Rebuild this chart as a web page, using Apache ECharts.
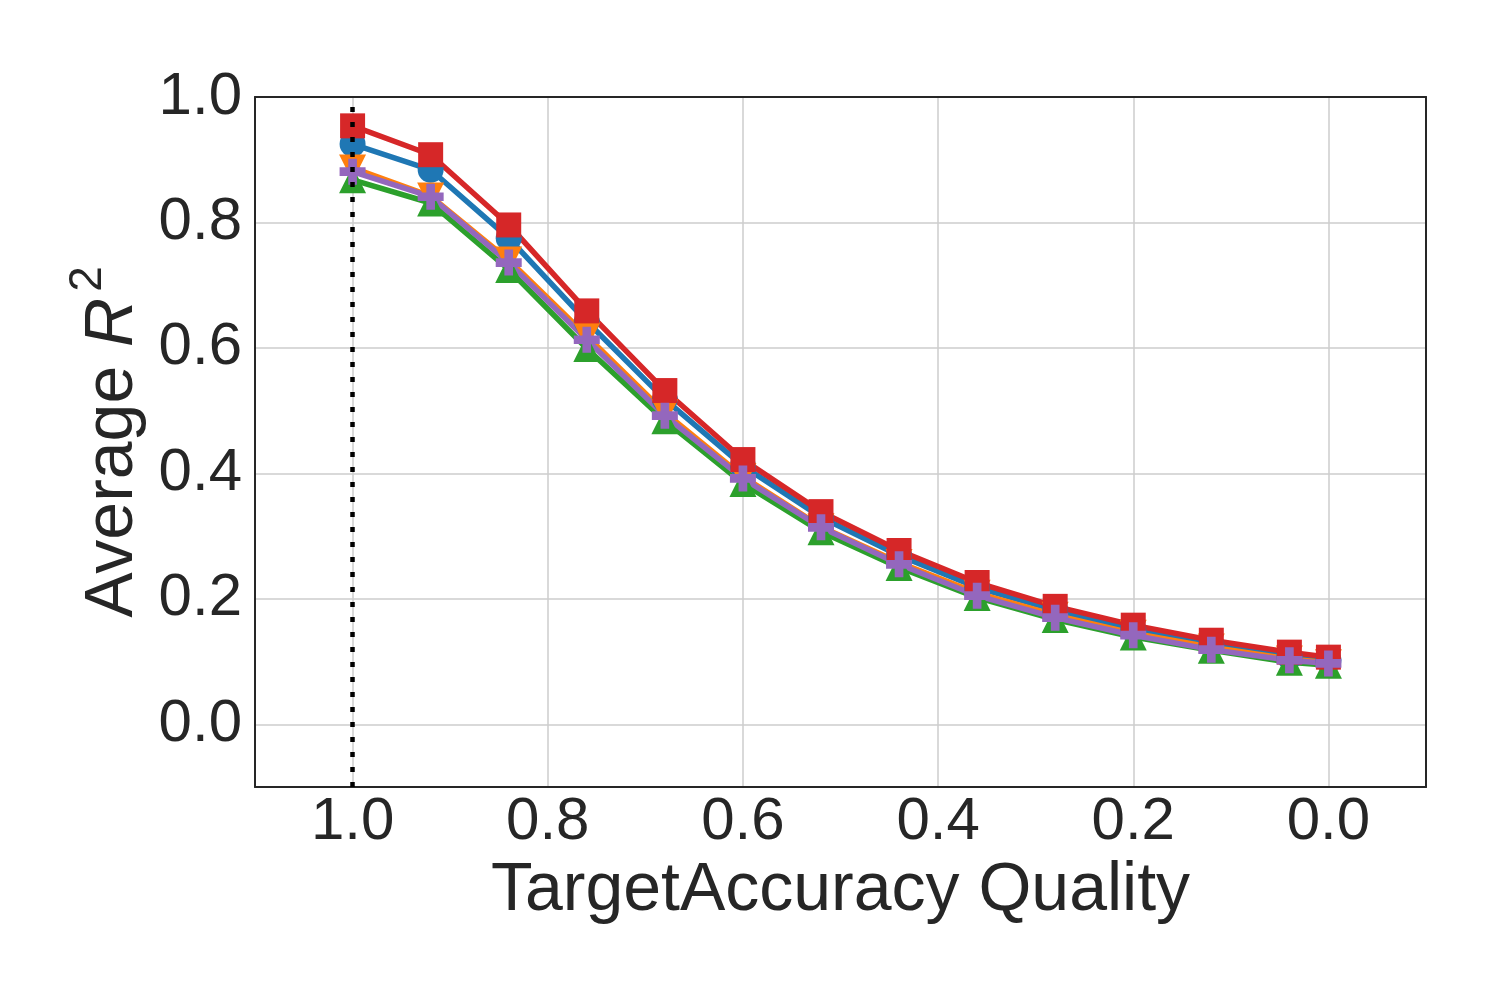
<!DOCTYPE html>
<html>
<head>
<meta charset="utf-8">
<script src="https://cdn.jsdelivr.net/npm/echarts@6/dist/echarts.min.js"></script>
<style>
html,body{margin:0;padding:0;background:#fff;}
#chart{width:1500px;height:1000px;}
</style>
</head>
<body>
<div id="chart"></div>
<script>
const xValues = [1.0, 0.92, 0.84, 0.76, 0.68, 0.60, 0.52, 0.44, 0.36, 0.28, 0.20, 0.12, 0.04, 0.0];
const blueCircle = [0.925, 0.884, 0.775, 0.642, 0.518, 0.412, 0.330, 0.269, 0.218, 0.182, 0.151, 0.127, 0.108, 0.102];
const orangeDown = [0.887, 0.842, 0.740, 0.619, 0.497, 0.395, 0.315, 0.258, 0.209, 0.174, 0.145, 0.123, 0.104, 0.098];
const greenUp = [0.868, 0.831, 0.725, 0.599, 0.484, 0.384, 0.307, 0.250, 0.202, 0.167, 0.139, 0.118, 0.099, 0.094];
const redSquare = [0.954, 0.908, 0.796, 0.659, 0.532, 0.422, 0.339, 0.277, 0.226, 0.188, 0.158, 0.134, 0.115, 0.107];
const purplePlus = [0.881, 0.841, 0.736, 0.613, 0.492, 0.392, 0.314, 0.255, 0.205, 0.170, 0.142, 0.119, 0.102, 0.097];
const refLineX = 1.0;
const xTitle = 'TargetAccuracy Quality';

const plusPath = 'path://M1,0H2V1H3V2H2V3H1V2H0V1H1Z';
function pairs(ys){ return xValues.map((x,i)=>[x, ys[i]]); }
function mk(name, color, ys, symbol, rotate, size){
  return {
    name: name, type: 'line', data: pairs(ys),
    symbol: symbol, symbolSize: size, symbolRotate: rotate || 0,
    showAllSymbol: true,
    lineStyle: {color: color, width: 5.5},
    itemStyle: {color: color, opacity: 1},
    emphasis: {disabled: true},
    animation: false
  };
}
const font = 'Liberation Sans, Arial, sans-serif';
const frame = {show: true, onZero: false, lineStyle: {color: '#262626', width: 2}};
const chart = echarts.init(document.getElementById('chart'), null, {renderer: 'canvas'});
const series = [
  mk('blue', '#1f77b4', blueCircle, 'circle', 0, 26),
  mk('orange', '#ff7f0e', orangeDown, 'triangle', 180, 27),
  mk('green', '#2ca02c', greenUp, 'triangle', 0, 27),
  mk('red', '#d62728', redSquare, 'rect', 0, 25),
  mk('purple', '#9467bd', purplePlus, plusPath, 0, 26)
];
series[4].markLine = {
  silent: true, symbol: ['none','none'], label: {show: false},
  lineStyle: {color: '#000', type: [5, 10], width: 4.5},
  data: [{xAxis: refLineX}],
  z: 10,
  animation: false
};
chart.setOption({
  backgroundColor: '#fff',
  animation: false,
  grid: {left: 255, top: 97, right: 74, bottom: 213, show: false},
  xAxis: [{
    type: 'value', inverse: true, min: -0.1, max: 1.1, splitNumber: 6, position: 'bottom',
    name: xTitle, nameLocation: 'middle', nameGap: 62,
    nameTextStyle: {fontSize: 68, color: '#262626', fontFamily: font},
    axisLine: frame, axisTick: {show: false},
    axisLabel: {fontSize: 60, color: '#262626', fontFamily: font, margin: 5,
      showMinLabel: false, showMaxLabel: false,
      formatter: v => v.toFixed(1)},
    splitLine: {show: true, showMinLine: false, showMaxLine: false, lineStyle: {color: '#cccccc', width: 1.5}}
  }, {
    type: 'value', inverse: true, min: -0.1, max: 1.1, position: 'top',
    axisLine: frame, axisTick: {show: false}, axisLabel: {show: false}, splitLine: {show: false}
  }],
  yAxis: [{
    type: 'value', min: -0.1, max: 1.0, splitNumber: 5, position: 'left',
    name: '{a|Average }{r|R}{s|2}', nameLocation: 'middle', nameGap: 94, nameRotate: 90,
    nameTextStyle: {color: '#262626', fontFamily: font,
      rich: {
        a: {fontSize: 68, lineHeight: 96, color: '#262626', fontFamily: font},
        r: {fontSize: 68, lineHeight: 96, fontStyle: 'italic', color: '#262626', fontFamily: font},
        s: {fontSize: 46, lineHeight: 46, verticalAlign: 'top', padding: [0, 0, 0, 6], color: '#262626', fontFamily: font}
      }},
    axisLine: frame, axisTick: {show: false},
    axisLabel: {fontSize: 60, color: '#262626', fontFamily: font, margin: 13,
      showMinLabel: false,
      formatter: v => v.toFixed(1)},
    splitLine: {show: true, showMinLine: false, showMaxLine: false, lineStyle: {color: '#cccccc', width: 1.5}}
  }, {
    type: 'value', min: -0.1, max: 1.0, position: 'right',
    axisLine: frame, axisTick: {show: false}, axisLabel: {show: false}, splitLine: {show: false}
  }],
  series: series
});
</script>
</body>
</html>
